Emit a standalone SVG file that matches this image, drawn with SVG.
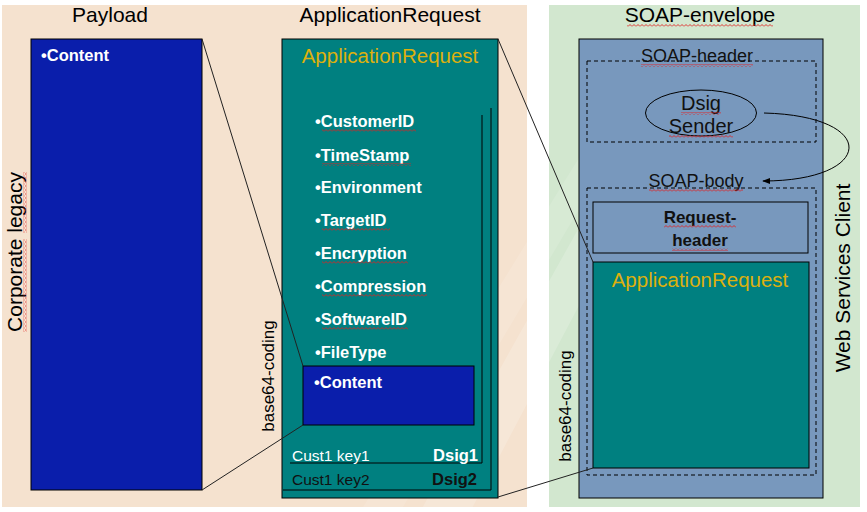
<svg xmlns="http://www.w3.org/2000/svg" width="867" height="512" viewBox="0 0 867 512">
<style>
text{font-family:"Liberation Sans",Arial,sans-serif}
.t21{font-size:21px;fill:#000}
.t18{font-size:18px;fill:#111}
.t20{font-size:20px;fill:#111}
.bul{font-size:16.5px;font-weight:bold;fill:#fff}
.yel{font-size:20.5px;fill:#DDB00E}
.edge{fill:none;stroke:#000;stroke-width:1}
.thin{fill:none;stroke:#222;stroke-width:1}
.dash{fill:none;stroke:#000;stroke-width:1;stroke-dasharray:4,3}
.sq{fill:url(#sq)}
</style>
<defs>
<pattern id="sq" patternUnits="userSpaceOnUse" width="4" height="3">
<path d="M0,2.5 L2,0.5 L4,2.5" fill="none" stroke="#E02020" stroke-width="0.9"/>
</pattern>
<marker id="arr" viewBox="0 0 10 10" refX="9" refY="5" markerWidth="8" markerHeight="8" orient="auto" markerUnits="userSpaceOnUse">
<path d="M0,1 L10,5 L0,9 Z" fill="#000"/>
</marker>
</defs>
<rect width="867" height="512" fill="#fff"/>
<!-- panels -->
<rect x="2" y="5" width="525" height="502" fill="#F5E2CF"/>
<rect x="549" y="5" width="311" height="502" fill="#D2E7CF"/>
<polygon points="420,512 470,512 640,190 600,190" fill="#fff" opacity="0.18"/>
<polygon points="360,512 400,512 620,140 590,140" fill="#fff" opacity="0.12"/>

<!-- titles -->
<g id="payload-title"><text class="t21" x="110" y="22" text-anchor="middle">Payload</text></g>
<g id="apprequest-title"><text class="t21" x="390" y="22" text-anchor="middle">ApplicationRequest</text></g>
<g id="soap-envelope-title"><text class="t21" x="700" y="22" text-anchor="middle">SOAP-envelope</text><rect class="sq" x="627" y="24" width="146" height="3"/></g>

<g id="corporate-legacy" transform="translate(22,252) rotate(-90)">
<text class="t21" x="0" y="0" text-anchor="middle">Corporate legacy</text>
<rect class="sq" x="-80" y="1.5" width="93" height="3"/>
<rect class="sq" x="19" y="1.5" width="61" height="3"/>
</g>
<g id="web-services-client" transform="translate(850,278) rotate(-90)">
<text class="t21" x="0" y="0" text-anchor="middle">Web Services Client</text>
</g>

<!-- Payload -->
<g id="payload">
<rect x="31" y="39" width="171" height="451" fill="#0A1EAB" stroke="#000" stroke-width="1"/>
<text class="bul" x="41" y="61">•Content</text>
</g>

<!-- ApplicationRequest -->
<g id="application-request">
<rect x="282" y="39" width="216" height="459" fill="#008080" stroke="#000" stroke-width="1"/>
<text class="yel" x="390" y="63" text-anchor="middle">ApplicationRequest</text>
<text class="bul" x="315" y="127">•CustomerID</text><rect class="sq" x="322" y="129" width="94" height="3"/>
<text class="bul" x="315" y="161">•TimeStamp</text><rect class="sq" x="322" y="163" width="89" height="3"/>
<text class="bul" x="315" y="193">•Environment</text>
<text class="bul" x="315" y="226">•TargetID</text><rect class="sq" x="322" y="228" width="68" height="3"/>
<text class="bul" x="315" y="259">•Encryption</text><rect class="sq" x="322" y="261" width="86" height="3"/>
<text class="bul" x="315" y="292">•Compression</text><rect class="sq" x="322" y="294" width="105" height="3"/>
<text class="bul" x="315" y="325">•SoftwareID</text><rect class="sq" x="322" y="327" width="86" height="3"/>
<text class="bul" x="315" y="358">•FileType</text>
<path class="edge" d="M482,115 V463 H290"/>
<path class="edge" d="M491,108 V490 H283"/>
<text x="292" y="461" style="font-size:15.5px;fill:#fff">Cust1 key1</text>
<text x="478" y="461" text-anchor="end" style="font-size:16.5px;font-weight:bold;fill:#fff">Dsig1</text>
<text x="292" y="485" style="font-size:15.5px;fill:#111">Cust1 key2</text>
<text x="477" y="485" text-anchor="end" style="font-size:16.5px;font-weight:bold;fill:#111">Dsig2</text>
</g>
<g id="content-inner">
<rect x="303" y="366" width="171" height="59" fill="#0A1EAB" stroke="#000" stroke-width="1"/>
<text class="bul" x="314" y="388">•Content</text>
</g>

<!-- SOAP envelope -->
<g id="soap-envelope">
<rect x="579" y="39" width="244" height="459" fill="#7898BD" stroke="#000" stroke-width="1"/>
</g>
<g id="soap-header">
<rect class="dash" x="587" y="61" width="229" height="81"/>
<text class="t18" x="697" y="62" text-anchor="middle">SOAP-header</text>
<rect class="sq" x="641" y="64" width="112" height="3"/>
</g>
<g id="dsig-sender">
<ellipse cx="701" cy="113" rx="55.5" ry="23" fill="none" stroke="#000" stroke-width="1"/>
<text class="t20" x="701" y="110" text-anchor="middle">Dsig</text>
<rect class="sq" x="681" y="112" width="40" height="3"/>
<text class="t20" x="701" y="133" text-anchor="middle">Sender</text>
<rect class="sq" x="669" y="135" width="64" height="3"/>
</g>
<g id="soap-body">
<rect class="dash" x="587" y="188" width="229" height="287"/>
<text class="t18" x="696" y="187" text-anchor="middle">SOAP-body</text>
<rect class="sq" x="649" y="189" width="94" height="3"/>
</g>
<g id="request-header">
<rect x="593" y="202" width="215" height="51" fill="#7898BD" stroke="#000" stroke-width="1"/>
<text x="700" y="223" text-anchor="middle" style="font-size:17px;font-weight:bold;fill:#111">Request-</text>
<rect class="sq" x="664" y="225" width="72" height="3"/>
<text x="700" y="246" text-anchor="middle" style="font-size:17px;font-weight:bold;fill:#111">header</text>
<rect class="sq" x="672" y="248" width="56" height="3"/>
</g>
<g id="application-request-soap">
<rect x="593" y="262" width="216" height="206" fill="#008080" stroke="#000" stroke-width="1"/>
<text class="yel" x="700" y="287" text-anchor="middle">ApplicationRequest</text>
</g>

<!-- base64 labels -->
<g id="base64-left" transform="translate(274,376) rotate(-90)">
<text x="0" y="0" text-anchor="middle" style="font-size:17px;fill:#000">base64-coding</text>
</g>
<g id="base64-right" transform="translate(571,406) rotate(-90)">
<text x="0" y="0" text-anchor="middle" style="font-size:17px;fill:#000">base64-coding</text>
</g>

<!-- connectors -->
<g id="connectors">
<line class="thin" x1="202" y1="39" x2="303" y2="366"/>
<line class="thin" x1="202" y1="490" x2="303" y2="425"/>
<line class="thin" x1="498" y1="39" x2="593" y2="262"/>
<line class="thin" x1="498" y1="497" x2="593" y2="468"/>
<path class="edge" d="M764,113 C880,116 875,181 763,181" marker-end="url(#arr)"/>
</g>
</svg>
